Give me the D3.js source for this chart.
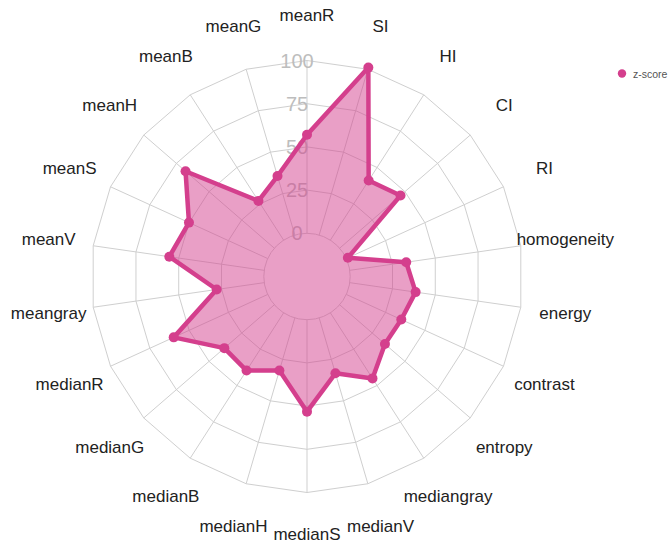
<!DOCTYPE html>
<html><head><meta charset="utf-8">
<script src="https://cdn.jsdelivr.net/npm/d3@7"></script>
<style>html,body{margin:0;padding:0;background:#fff}svg{display:block}</style>
</head><body>
<svg id="chart" width="670" height="543"></svg>
<script>
const categories = ["meanR","SI","HI","CI","RI","homogeneity","energy","contrast","entropy","mediangray","medianV","medianS","medianH","medianB","medianG","medianR","meangray","meanV","meanS","meanH","meanB","meanG"];
const zscore = [57, 101, 41, 46.6, 1, 33, 38.5, 35, 34.7, 45.1, 33.4, 53.2, 31.7, 39.7, 38.3, 59.8, 27.8, 55.5, 50.1, 68, 27, 35.6];
const radialTicks = [0, 25, 50, 75, 100];
const seriesName = "z-score";

const svg = d3.select("#chart");
const cx = 307, cy = 276.5;
const rOuter = 216, hole = 0.2;
const r = d3.scaleLinear().domain([0, 100]).range([rOuter * hole, rOuter]);
const ang = d3.scaleLinear().domain([0, categories.length]).range([0, 2 * Math.PI]);
const mainColor = "#d43f8d";
const gridColor = "#cfcfcf";

const g = svg.append("g").attr("transform", `translate(${cx},${cy})`);

// grid rings
const ringLine = d3.lineRadial().angle(d => ang(d[0])).radius(d => r(d[1])).curve(d3.curveLinearClosed);
radialTicks.forEach(t => {
  if (t === 0) {
    g.append("circle").attr("r", r(0)).attr("fill", "none").attr("stroke", gridColor).attr("stroke-width", 1);
  } else {
    g.append("path").attr("d", ringLine(categories.map((c, i) => [i, t])))
      .attr("fill", "none").attr("stroke", gridColor).attr("stroke-width", 1);
  }
});
// spokes
categories.forEach((c, i) => {
  const a = ang(i);
  g.append("line")
    .attr("x1", r(0) * Math.sin(a)).attr("y1", -r(0) * Math.cos(a))
    .attr("x2", r(100) * Math.sin(a)).attr("y2", -r(100) * Math.cos(a))
    .attr("stroke", gridColor).attr("stroke-width", 1);
});
// radial tick labels
g.selectAll(".rtick").data(radialTicks).enter().append("text")
  .attr("x", -10).attr("y", d => -r(d))
  .attr("text-anchor", "middle").attr("dominant-baseline", "central")
  .attr("font-family", "Liberation Sans, Arial, sans-serif").attr("font-size", 20)
  .attr("fill", "#bdbdbd").text(d => d);

// angular labels
const labelR = 261;
g.selectAll(".alabel").data(categories).enter().append("text")
  .attr("x", (d, i) => labelR * Math.sin(ang(i)))
  .attr("y", (d, i) => Math.min(-labelR * Math.cos(ang(i)), 543 - cy - 9))
  .attr("text-anchor", "middle").attr("dominant-baseline", "central")
  .attr("font-family", "Liberation Sans, Arial, sans-serif").attr("font-size", 17)
  .attr("fill", "#222").text(d => d);

// data polygon
const dataLine = d3.lineRadial().angle((d, i) => ang(i)).radius(d => r(d)).curve(d3.curveLinearClosed);
g.append("path").attr("d", dataLine(zscore))
  .attr("fill", mainColor).attr("fill-opacity", 0.5)
  .attr("stroke", mainColor).attr("stroke-width", 4.5).attr("stroke-linejoin", "round");
g.selectAll(".pt").data(zscore).enter().append("circle")
  .attr("cx", (d, i) => r(d) * Math.sin(ang(i)))
  .attr("cy", (d, i) => -r(d) * Math.cos(ang(i)))
  .attr("r", 5).attr("fill", mainColor);

// legend
const lg = svg.append("g").attr("transform", "translate(622,73.5)");
lg.append("circle").attr("r", 4.2).attr("fill", mainColor);
lg.append("text").attr("x", 11).attr("y", 0).attr("dominant-baseline", "central")
  .attr("font-family", "Liberation Sans, Arial, sans-serif").attr("font-size", 10.5)
  .attr("fill", "#555").text(seriesName);
</script>
</body></html>
